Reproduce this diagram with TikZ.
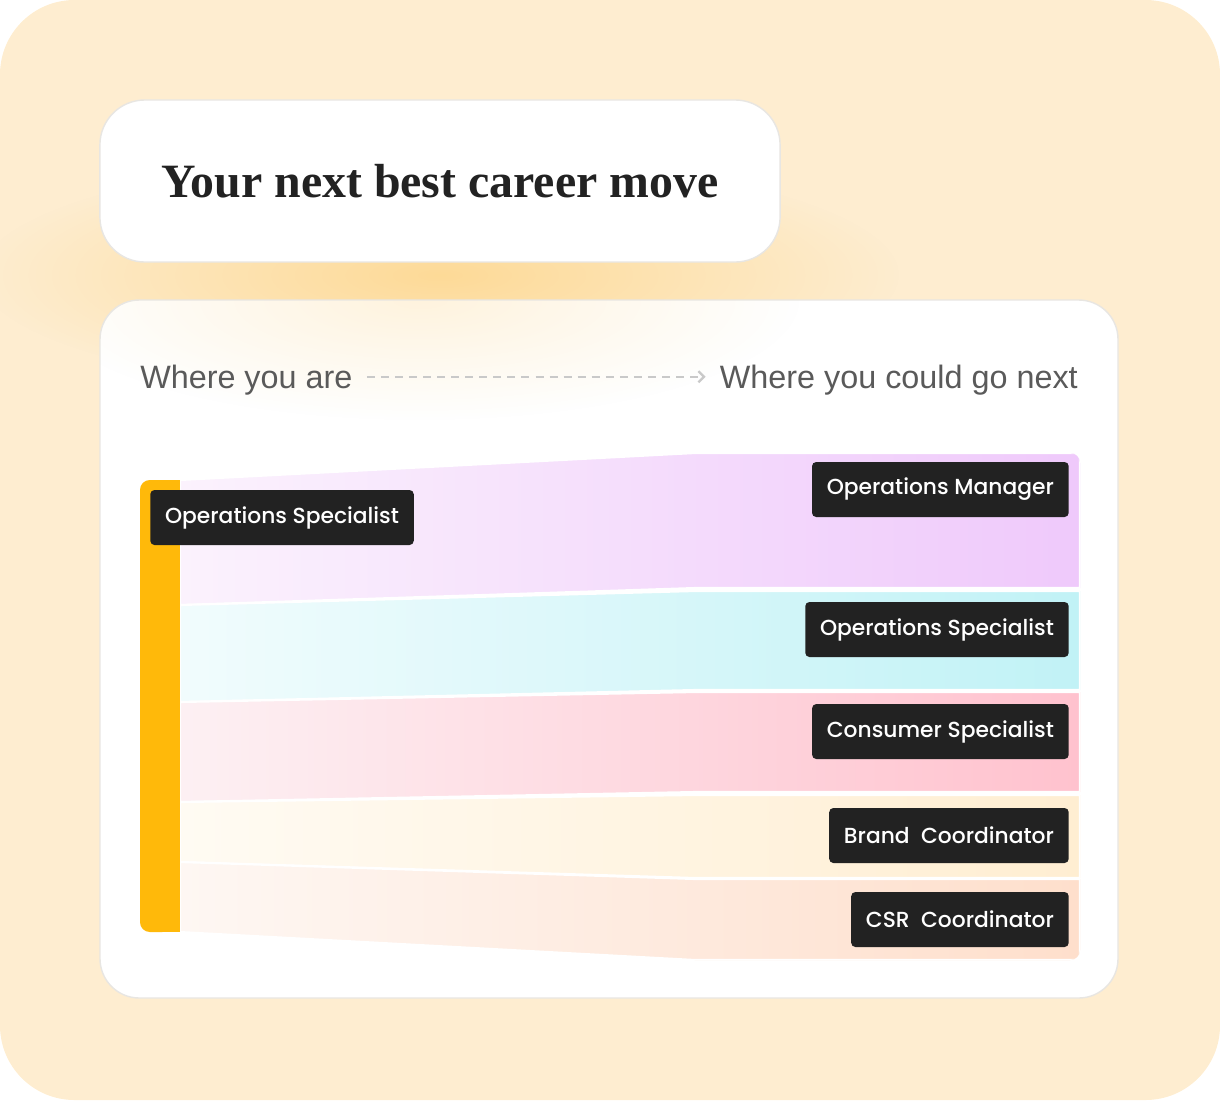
\documentclass[tikz,border=0pt]{standalone}
\usepackage{fontspec}
\setmainfont{Liberation Serif}
\setsansfont{Liberation Sans}
\newfontfamily\tagfont{Poppins}[UprightFont={* Medium}]
\usetikzlibrary{arrows.meta,fadings}

\definecolor{bgc}{HTML}{FEEDD0}
\definecolor{glowc}{HTML}{FDD891}
\definecolor{edgec}{HTML}{E8E6E2}
\definecolor{inkc}{HTML}{222222}
\definecolor{greyc}{HTML}{5A5A5A}
\definecolor{dashc}{HTML}{C9C9C9}
\definecolor{barc}{HTML}{FFB90A}
\definecolor{purpA}{HTML}{FBF2FD}
\definecolor{purpB}{HTML}{EFC9FB}
\definecolor{cyanA}{HTML}{F1FCFD}
\definecolor{cyanB}{HTML}{C1F2F6}
\definecolor{pinkA}{HTML}{FDF0F3}
\definecolor{pinkB}{HTML}{FFC2CE}
\definecolor{creamA}{HTML}{FFFBF3}
\definecolor{creamB}{HTML}{FFEED2}
\definecolor{peachA}{HTML}{FEF7F3}
\definecolor{peachB}{HTML}{FEDFCC}

\tikzfading[name=glowfade, inner color=transparent!0, outer color=transparent!100]

\tikzset{
  card/.style={fill=white, draw=edgec, line width=1pt},
  head/.style={inner sep=0pt, text=greyc, font=\sffamily\fontsize{23}{28}\selectfont},
  band/.style={draw=white, line width=1.5pt},
  rolebox/.style={fill=inkc, text=white, rounded corners=3pt, inner xsep=10.5pt,
    minimum height=1.375cm, font=\tagfont\fontsize{15.5}{18}\selectfont},
}

\begin{document}
\begin{tikzpicture}[x=0.025cm, y=-0.025cm]
    \useasboundingbox (0,0) rectangle (1220,1100);
    \fill[bgc, rounded corners=53pt] (0,0) rectangle (1220,1100);
    \fill[glowc, path fading=glowfade, opacity=0.9] (440,275) ellipse (11.5cm and 3cm);
    \fill[white, rounded corners=28pt] (100,300) rectangle (1118,998);
    \begin{scope}
        \clip[rounded corners=28pt] (100,300) rectangle (1118,998);
        \fill[glowc, path fading=glowfade, opacity=0.3] (420,300) ellipse (9.5cm and 3cm);
    \end{scope}
    \draw[edgec, line width=1pt, rounded corners=28pt] (100,300) rectangle (1118,998);
    \node[card, rounded corners=32pt, minimum width=17cm, minimum height=4.05cm] (title) at (440,181)
        {\color{inkc}\fontsize{34}{38}\selectfont\bfseries Your next best career move};
    \node[head, anchor=base west] (here) at (140,388) {Where you are};
    \node[head, anchor=base east] (next) at (1078,388) {Where you could go next};
    \draw[dashc, line width=1.6pt, dash pattern=on 5.7pt off 4.3pt, -{Straight Barb[length=4pt,width=8pt]}]
        ([shift={(10pt,8pt)}]here.base east) -- ([shift={(-10pt,8pt)}]next.base west);
    \begin{scope}
        \clip[rounded corners=7pt] (175,453) rectangle (1080,960);
        \path[band, left color=purpA, right color=purpB] (180,480) -- (695,453) -- (1080,453) -- (1080,588) -- (695,588) -- (180,605) -- cycle;
        \path[band, left color=cyanA, right color=cyanB] (180,605) -- (695,591) -- (1080,591) -- (1080,690) -- (695,690) -- (180,702) -- cycle;
        \path[band, left color=pinkA, right color=pinkB] (180,702) -- (695,692) -- (1080,692) -- (1080,792) -- (695,792) -- (180,802) -- cycle;
        \path[band, left color=creamA, right color=creamB] (180,802) -- (695,795) -- (1080,795) -- (1080,878) -- (695,878) -- (180,862) -- cycle;
        \path[band, left color=peachA, right color=peachB] (180,862) -- (695,879) -- (1080,879) -- (1080,960) -- (695,960) -- (180,932) -- cycle;
    \end{scope}
    \fill[barc] (160,480) rectangle (180,932);
    \fill[barc, rounded corners=7pt] (140,480) rectangle (172,932);
    \node[rolebox, anchor=west] (from) at (150,517.5) {Operations Specialist};
    \node[rolebox, anchor=east] (to1) at (1069,489.5) {Operations Manager};
    \node[rolebox, anchor=east] (to2) at (1069,629.5) {Operations Specialist};
    \node[rolebox, anchor=east] (to3) at (1069,731.5) {Consumer Specialist};
    \node[rolebox, anchor=east] (to4) at (1069,835.5) {Brand\ \ Coordinator};
    \node[rolebox, anchor=east] (to5) at (1069,919.5) {CSR\ \ Coordinator};
\end{tikzpicture}
\end{document}
